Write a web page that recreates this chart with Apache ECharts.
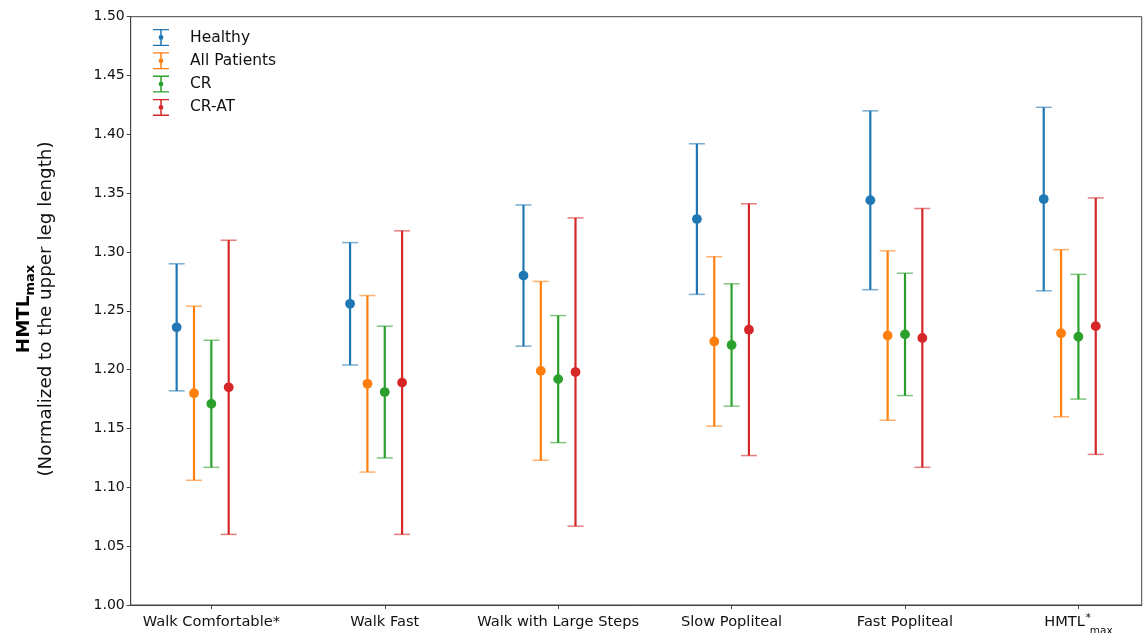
<!DOCTYPE html>
<html>
<head>
<meta charset="utf-8">
<title>HMTL max by task and group</title>
<script src="https://cdn.jsdelivr.net/npm/echarts@6/dist/echarts.min.js"></script>
<style>
  html, body { margin: 0; padding: 0; background: #fff; }
  #chart { width: 1146px; height: 633px; }
</style>
</head>
<body>
<div id="chart"></div>
<script>
// Tasks on the x axis
const categories = ['Walk Comfortable*', 'Walk Fast', 'Walk with Large Steps', 'Slow Popliteal', 'Fast Popliteal', 'HMTL*max'];

// Group means and standard deviations (normalized to upper leg length)
const healthyMean = [1.236, 1.256, 1.280, 1.328, 1.344, 1.345];
const healthySD   = [0.054, 0.052, 0.060, 0.064, 0.076, 0.078];
const allMean     = [1.180, 1.188, 1.199, 1.224, 1.229, 1.231];
const allSD       = [0.074, 0.075, 0.076, 0.072, 0.072, 0.071];
const crMean      = [1.171, 1.181, 1.192, 1.221, 1.230, 1.228];
const crSD        = [0.054, 0.056, 0.054, 0.052, 0.052, 0.053];
const cratMean    = [1.185, 1.189, 1.198, 1.234, 1.227, 1.237];
const cratSD      = [0.125, 0.129, 0.131, 0.107, 0.110, 0.109];

const yTicks = [1.00, 1.05, 1.10, 1.15, 1.20, 1.25, 1.30, 1.35, 1.40, 1.45, 1.50];

const groups = [
  { name: 'Healthy',      mean: healthyMean, sd: healthySD, color: '#1f77b4', shift: -0.2 },
  { name: 'All Patients', mean: allMean,     sd: allSD,     color: '#ff7f0e', shift: -0.1 },
  { name: 'CR',           mean: crMean,      sd: crSD,      color: '#2ca02c', shift: 0.0 },
  { name: 'CR-AT',        mean: cratMean,    sd: cratSD,    color: '#d62728', shift: 0.1 }
];

const FONT = 'DejaVu Sans';
const CAP = 8;

// Legend glyph: error bar with caps and a dot (stem split around the dot)
const errIcon = 'path://M0,0H16V1.3H0Z M7.25,0H8.75V6.5H7.25Z M7.25,10.5H8.75V17H7.25Z M0,15.7H16V17H0Z ' +
  'M5.6,8.5A2.4,2.4,0,1,1,10.4,8.5A2.4,2.4,0,1,1,5.6,8.5Z';

function renderErrorBar(color) {
  return function (params, api) {
    const x = api.value(0), m = api.value(1), s = api.value(2);
    const c = api.coord([x, m]);
    const hi = api.coord([x, m + s]);
    const lo = api.coord([x, m - s]);
    return {
      type: 'group',
      children: [
        { type: 'line', shape: { x1: c[0], y1: hi[1], x2: c[0], y2: lo[1] },
          style: { stroke: color, lineWidth: 2.2 } },
        { type: 'line', shape: { x1: c[0] - CAP, y1: hi[1], x2: c[0] + CAP, y2: hi[1] },
          style: { stroke: color, lineWidth: 1.5, opacity: 0.6 } },
        { type: 'line', shape: { x1: c[0] - CAP, y1: lo[1], x2: c[0] + CAP, y2: lo[1] },
          style: { stroke: color, lineWidth: 1.5, opacity: 0.6 } },
        { type: 'circle', shape: { cx: c[0], cy: c[1], r: 4.9 },
          style: { fill: color } }
      ]
    };
  };
}

const series = groups.map(g => ({
  name: g.name,
  type: 'custom',
  color: g.color,
  clip: false,
  renderItem: renderErrorBar(g.color),
  encode: { x: 0, y: 1 },
  data: g.mean.map((m, i) => [i + g.shift, m, g.sd[i]])
}));

const chart = echarts.init(document.getElementById('chart'), null, { renderer: 'canvas' });

chart.setOption({
  animation: false,
  backgroundColor: '#fff',
  textStyle: { fontFamily: FONT },
  grid: {
    left: 130.7, right: 4.3, top: 16.7, bottom: 28,
    outerBoundsMode: 'none', containLabel: false,
    show: true, borderColor: '#444', borderWidth: 1, backgroundColor: 'transparent'
  },
  legend: {
    orient: 'vertical',
    left: 153, top: 29, padding: 0,
    itemWidth: 16, itemHeight: 17, itemGap: 6.3,
    textStyle: { fontFamily: FONT, fontSize: 15.5, color: '#111', padding: [0, 0, 0, 16] },
    data: groups.map(g => ({ name: g.name, icon: errIcon, itemStyle: { color: g.color } }))
  },
  xAxis: {
    type: 'value',
    min: -0.465, max: 5.365,
    splitLine: { show: false },
    axisLine: { show: true, onZero: false, lineStyle: { color: '#444', width: 1 } },
    axisTick: { show: true, length: 4, inside: false, customValues: [0, 1, 2, 3, 4, 5],
      lineStyle: { color: '#444' } },
    axisLabel: {
      customValues: [0, 1, 2, 3, 4, 5],
      margin: 10,
      fontFamily: FONT, fontSize: 14.6, color: '#111',
      formatter: v => {
        const i = Math.round(v);
        if (i === 5) return '{m|HMTL}{sup|*}{sub|max}';
        return '{n|' + categories[i] + '}';
      },
      rich: {
        n: { fontFamily: FONT, fontSize: 14.6, color: '#111', lineHeight: 17, verticalAlign: 'top' },
        m: { fontFamily: FONT, fontSize: 14.6, color: '#111', lineHeight: 17, verticalAlign: 'top' },
        sup: { fontFamily: FONT, fontSize: 11, color: '#111', lineHeight: 11, width: 1,
               align: 'left', verticalAlign: 'top', padding: [-2, 0, 0, 3] },
        sub: { fontFamily: FONT, fontSize: 10.5, color: '#111', lineHeight: 10,
               padding: [11, 0, 0, 1], verticalAlign: 'top' }
      }
    }
  },
  yAxis: {
    type: 'value',
    min: yTicks[0], max: yTicks[yTicks.length - 1], interval: 0.05,
    splitLine: { show: false },
    axisLine: { show: true, onZero: false, lineStyle: { color: '#444', width: 1 } },
    axisTick: { show: true, length: 4, lineStyle: { color: '#444' } },
    axisLabel: {
      margin: 6, fontFamily: FONT, fontSize: 14, color: '#111',
      formatter: v => v.toFixed(2)
    }
  },
  graphic: [{
    type: 'group',
    x: 36, y: 309,
    rotation: Math.PI / 2,
    children: [
      {
        type: 'text',
        x: 0, y: -11,
        style: {
          text: '{b|HMTL}{s|max}',
          align: 'center', verticalAlign: 'middle',
          rich: {
            b: { fontFamily: FONT, fontWeight: 'bold', fontSize: 18.3, fill: '#000', lineHeight: 20, verticalAlign: 'top' },
            s: { fontFamily: FONT, fontWeight: 'bold', fontSize: 13, fill: '#000', lineHeight: 13,
                 padding: [9, 0, 0, 0], verticalAlign: 'top' }
          }
        }
      },
      {
        type: 'text',
        x: 0, y: 10,
        style: {
          text: '(Normalized to the upper leg length)',
          fontFamily: FONT, fontSize: 18.3, fill: '#111',
          align: 'center', verticalAlign: 'middle'
        }
      }
    ]
  }],
  series: series
});
</script>
</body>
</html>
